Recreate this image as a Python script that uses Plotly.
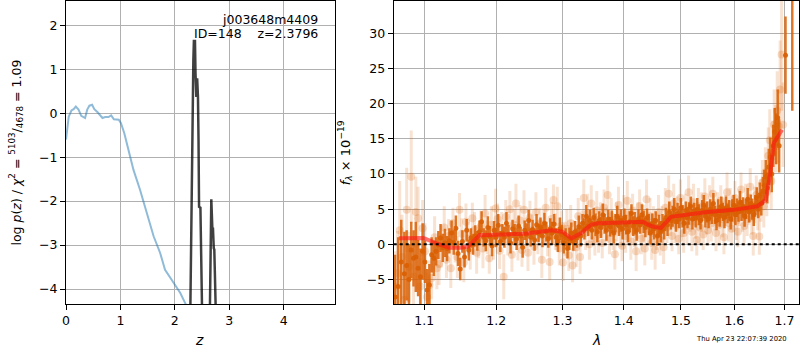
import math
import plotly.graph_objects as go

# ---------------- Left panel: redshift PDF ----------------
z_wide = [0.0, 0.05, 0.10, 0.14, 0.18, 0.23, 0.28, 0.31, 0.35, 0.39, 0.43, 0.48, 0.52, 0.58,
          0.63, 0.67, 0.72, 0.78, 0.83, 0.88, 0.97, 1.01, 1.07, 1.15, 1.24, 1.36, 1.49, 1.61,
          1.73, 1.82, 1.92, 2.01, 2.10, 2.19, 2.25]
logp_wide = [-0.60, -0.08, 0.06, 0.09, 0.15, 0.08, -0.06, -0.08, -0.11, 0.08, 0.17, 0.19, 0.09, 0.02,
             -0.04, -0.11, -0.09, -0.09, -0.05, -0.14, -0.15, -0.23, -0.45, -0.83, -1.29, -1.74, -2.27, -2.80,
             -3.18, -3.56, -3.75, -3.92, -4.09, -4.32, -4.47]

z_fine = [2.27, 2.285, 2.31, 2.34, 2.35, 2.37, 2.38, 2.395, 2.41, 2.425, 2.435, 2.445, 2.47, 2.50, 2.52,
          2.60, 2.63, 2.645, 2.67, 2.68, 2.69, 2.70, 2.715, 2.725, 2.735, 2.76, 2.78, 2.90]
logp_fine = [-6.0, -4.4, -1.0, 1.2, 1.64, 1.64, 0.9, 0.37, 0.79, 0.37, -0.6, -2.13, -2.15, -4.4, -6.0,
             -6.0, -6.0, -4.4, -1.96, -2.3, -2.65, -2.6, -3.07, -3.1, -3.6, -4.4, -6.0, -6.0]

obj_name = "j003648m4409"
obj_id = 148
obj_z = 2.3796
chi2_num, chi2_den, chi2_red = 5103, 4678, 1.09

# ---------------- Right panel: spectrum ----------------
model_lam = [1.067, 1.099, 1.115, 1.134, 1.150, 1.160, 1.176, 1.21, 1.242, 1.283, 1.300, 1.314,
             1.33, 1.346, 1.357, 1.40, 1.432, 1.447, 1.464, 1.482, 1.52, 1.549, 1.599, 1.645,
             1.662, 1.671, 1.678, 1.695]
model_flux = [0.85, 0.9, 0.2, -0.5, -0.5, -0.3, 1.3, 1.4, 1.5, 2.0, 1.8, 0.85,
              1.6, 2.8, 3.0, 3.1, 3.2, 2.6, 2.3, 3.9, 4.3, 4.6, 4.9, 5.4,
              6.3, 10.1, 14.4, 16.3]

light_lam = [1.062, 1.065, 1.068, 1.071, 1.074, 1.077, 1.080, 1.083, 1.086, 1.089, 1.092,
             1.095, 1.098, 1.101, 1.104, 1.107, 1.110, 1.114, 1.117, 1.120, 1.123, 1.127,
             1.130, 1.133, 1.136, 1.139, 1.142, 1.145, 1.148, 1.151, 1.154, 1.157,
             1.160, 1.163, 1.166, 1.169, 1.172, 1.175, 1.178, 1.181, 1.184, 1.187,
             1.190, 1.193, 1.196, 1.199, 1.202, 1.205, 1.208, 1.211, 1.214, 1.217,
             1.220, 1.223, 1.226, 1.229, 1.232, 1.235, 1.238, 1.241, 1.244, 1.247,
             1.250, 1.253, 1.256, 1.259, 1.262, 1.265, 1.268, 1.271, 1.274, 1.277,
             1.280, 1.283, 1.286, 1.289, 1.292, 1.295, 1.298, 1.301, 1.304, 1.307,
             1.310, 1.313, 1.316, 1.319, 1.322, 1.325, 1.328, 1.331, 1.334, 1.337,
             1.340, 1.343, 1.346, 1.349, 1.352, 1.355, 1.358, 1.361, 1.364, 1.367,
             1.370, 1.373, 1.376, 1.379, 1.382, 1.385, 1.388, 1.391, 1.394, 1.397,
             1.400, 1.403, 1.406, 1.409, 1.412, 1.415, 1.418, 1.421, 1.424, 1.427,
             1.430, 1.433, 1.436, 1.439, 1.442, 1.445, 1.448, 1.451, 1.454, 1.457,
             1.460, 1.463, 1.466, 1.469, 1.472, 1.475, 1.478, 1.481, 1.484, 1.487,
             1.490, 1.493, 1.496, 1.499, 1.502, 1.505, 1.508, 1.511, 1.514, 1.517,
             1.520, 1.523, 1.526, 1.529, 1.532, 1.535, 1.538, 1.541, 1.544, 1.547,
             1.550, 1.553, 1.556, 1.559, 1.562, 1.565, 1.568, 1.571, 1.574, 1.577,
             1.580, 1.583, 1.586, 1.589, 1.592, 1.595, 1.598, 1.601, 1.604, 1.607,
             1.610, 1.613, 1.616, 1.619, 1.622, 1.625, 1.628, 1.631, 1.634, 1.637,
             1.640, 1.643, 1.646, 1.649, 1.652, 1.655, 1.658, 1.661, 1.664, 1.667,
             1.670, 1.673, 1.676, 1.679, 1.682, 1.685, 1.688, 1.691, 1.694, 1.697]
light_flux = [-6.0, -4.1, 2.0, -1.8, -7.9, 4.9, -3.2, 9.6, -4.6, 4.6, 3.7,
              -6.0, 2.3, -1.0, -7.5, -5.8, -4.8, 1.0, -3.4, -2.8, -0.3, 2.4,
              -2.2, 1.2, -3.4, 3.0, 0.0, -1.8, 4.9, 1.5, -2.6, 3.2,
              0.8, -0.8, 3.7, 2.0, -1.2, 0.4, 2.6, -0.6, 4.4, 1.0,
              -2.0, 2.8, 0.2, 5.1, 3.6, -0.9, 2.2, -4.6, 3.9, 0.6,
              5.0, -1.5, 2.8, 5.8, 0.3, 3.4, -0.8, 4.9, 1.6, -1.2,
              3.8, 2.0, -0.3, 4.6, 1.0, 3.0, -2.2, 2.4, 5.2, 0.5,
              -2.5, 3.6, 6.3, 1.8, 5.4, -0.6, 2.6, -2.6, 0.8, 2.2,
              -1.6, 3.0, -3.0, 1.2, -0.4, 4.0, -1.8, 2.6, 6.6, 1.6,
              4.4, 0.0, 5.8, 2.4, 0.6, 4.8, 1.4, 3.6, 0.2, 5.2,
              2.8, 7.0, 0.8, 4.0, 1.6, -1.4, 3.2, 5.6, 2.0, -0.2,
              4.4, 1.2, 6.2, 2.6, 0.4, 4.8, 1.8, -1.0, 3.4, 5.4,
              0.8, 3.0, -0.6, 6.4, 2.2, 4.0, 0.2, 3.2, -0.8, 1.8,
              4.6, 0.6, 2.8, -0.4, 5.2, 2.4, 7.2, 3.6, 1.2, 5.8,
              2.8, 4.4, 0.8, 6.6, 3.4, 1.6, 5.0, 2.6, 7.4, 4.0,
              1.8, 6.0, 3.2, 0.6, 5.4, 2.4, 4.6, 1.4, 6.8, 3.8,
              2.0, 5.6, 3.0, 7.2, 4.2, 1.6, 5.0, 2.8, 6.2, 3.6,
              1.0, 4.8, 7.4, 3.0, 5.6, 2.2, 4.4, 6.6, 3.4, 1.8,
              5.2, 7.8, 4.0, 2.6, 6.0, 3.6, 5.0, 8.2, 3.8, 1.2,
              5.6, 7.0, 4.4, 1.1, 6.2, 8.8, 5.4, 10.2, 7.4, 12.6,
              14.8, 9.0, 13.0, 17.0, 15.0, 19.0, 16.8, 22.0, 27.0, 17.0]
light_err = [5.0, 6.0, 7.0, 6.0, 5.0, 6.0, 5.0, 6.6, 5.0, 5.0, 4.5,
             4.0, 4.0, 4.0, 3.5, 3.5, 3.0, 3.0, 3.0, 3.0, 3.0, 3.0,
             2.6, 2.4, 2.8, 2.2, 2.6, 3.0, 2.4, 2.2, 2.8, 2.6,
             2.4, 2.8, 2.2, 2.6, 3.0, 2.4, 2.2, 2.8, 2.6, 2.4,
             2.2, 2.6, 2.4, 2.8, 2.2, 2.6, 2.4, 3.2, 2.4, 2.2,
             2.6, 2.4, 2.2, 2.8, 2.6, 2.2, 2.4, 2.8, 2.2, 2.6,
             2.4, 2.2, 2.6, 2.8, 2.4, 2.2, 2.6, 2.4, 2.8, 2.2,
             2.6, 2.4, 2.2, 2.6, 2.8, 2.4, 2.2, 2.6, 2.4, 2.8,
             2.2, 2.6, 2.4, 2.2, 2.8, 2.6, 2.4, 2.2, 2.6, 2.4,
             2.8, 2.2, 2.6, 2.4, 2.2, 2.8, 2.6, 2.4, 2.2, 2.6,
             2.4, 2.8, 2.2, 2.6, 2.4, 2.2, 2.8, 2.6, 2.4, 2.2,
             2.6, 2.4, 2.8, 2.2, 2.6, 2.4, 2.2, 2.8, 2.6, 2.4,
             2.2, 2.6, 2.4, 2.8, 2.2, 2.6, 2.4, 2.2, 2.8, 2.6,
             2.4, 2.2, 2.6, 2.4, 2.8, 2.2, 2.6, 2.4, 2.2, 2.8,
             2.6, 2.4, 2.2, 2.6, 2.4, 2.8, 2.2, 2.6, 2.4, 2.2,
             2.8, 2.6, 2.4, 2.2, 2.6, 2.4, 2.8, 2.2, 2.6, 2.4,
             2.2, 2.8, 2.6, 2.4, 2.2, 2.6, 2.4, 2.8, 2.2, 2.6,
             2.4, 2.2, 2.8, 2.6, 2.4, 2.2, 2.6, 2.4, 2.8, 2.2,
             2.6, 2.4, 2.2, 2.8, 2.6, 2.4, 2.2, 2.6, 2.4, 2.8,
             2.6, 2.8, 2.4, 2.6, 3.0, 3.2, 3.0, 3.6, 3.4, 4.0,
             4.4, 4.0, 4.6, 5.0, 4.8, 5.6, 5.2, 7.0, 8.0, 6.0]

dark_lam = [1.062, 1.066, 1.070, 1.074, 1.077, 1.080, 1.083, 1.086, 1.089, 1.092, 1.095,
            1.098, 1.101, 1.104, 1.107,
            1.110, 1.113, 1.116, 1.119, 1.122, 1.125, 1.128, 1.131, 1.134, 1.137,
            1.140, 1.143, 1.146, 1.149, 1.152, 1.155, 1.158, 1.161, 1.164, 1.167,
            1.170, 1.173, 1.176, 1.179, 1.182, 1.185, 1.188, 1.191, 1.194, 1.197,
            1.200, 1.203, 1.206, 1.209, 1.212, 1.215, 1.218, 1.221, 1.224, 1.227,
            1.230, 1.233, 1.236, 1.239, 1.242, 1.245, 1.248, 1.251, 1.254, 1.257,
            1.260, 1.263, 1.266, 1.269, 1.272, 1.275, 1.278, 1.281, 1.284, 1.287,
            1.290, 1.293, 1.296, 1.299, 1.302, 1.305, 1.308, 1.311, 1.314, 1.317,
            1.320, 1.323, 1.326, 1.329, 1.332, 1.335, 1.338, 1.341, 1.344, 1.347,
            1.350, 1.353, 1.356, 1.359, 1.362, 1.365, 1.368, 1.371, 1.374, 1.377,
            1.380, 1.383, 1.386, 1.389, 1.392, 1.395, 1.398, 1.401, 1.404, 1.407,
            1.410, 1.413, 1.416, 1.419, 1.422, 1.425, 1.428, 1.431, 1.434, 1.437,
            1.440, 1.443, 1.446, 1.449, 1.452, 1.455, 1.458, 1.461, 1.464, 1.467,
            1.470, 1.473, 1.476, 1.479, 1.482, 1.485, 1.488, 1.491, 1.494, 1.497,
            1.500, 1.503, 1.506, 1.509, 1.512, 1.515, 1.518, 1.521, 1.524, 1.527,
            1.530, 1.533, 1.536, 1.539, 1.542, 1.545, 1.548, 1.551, 1.554, 1.557,
            1.560, 1.563, 1.566, 1.569, 1.572, 1.575, 1.578, 1.581, 1.584, 1.587,
            1.590, 1.593, 1.596, 1.599, 1.602, 1.605, 1.608, 1.611, 1.614, 1.617,
            1.620, 1.623, 1.626, 1.629, 1.632, 1.635, 1.638, 1.641, 1.644, 1.647,
            1.650, 1.653, 1.656, 1.659, 1.662, 1.665, 1.668, 1.671, 1.674, 1.677,
            1.680, 1.683, 1.686, 1.689, 1.702, 1.716]
dark_flux = [-7.5, -6.0, -2.5, -4.2, -3.0, -5.0, -0.8, -2.0, -1.8, -3.4, -4.6,
             -1.0, -2.5, -6.5, -5.8,
             -1.5, -2.0, -1.0, -0.1, 0.9, -0.5, 0.2, -0.6, 0.5, 1.6,
             0.3, 2.3, -1.3, -3.5, 0.4, -1.8, 2.0, -0.8, 0.9, 0.0,
             1.2, 0.5, 1.8, 3.2, 1.0, 0.5, 2.4, 1.2, -0.2, 2.0,
             1.0, 2.7, 0.4, 1.6, 1.0, 3.0, 1.4, 0.2, 2.2, 1.5,
             0.8, 2.6, 1.2, -0.4, 2.0, 1.4, 3.4, 1.0, 2.1, 0.6,
             2.8, 1.6, 2.4, 1.2, 3.0, 1.8, 0.8, 2.2, 1.6, 2.9,
             1.0, 0.4, 2.2, 1.4, 0.2, 1.0, -0.6, 0.8, 1.6, 0.4,
             1.8, 0.9, 2.5, 1.2, 3.0, 2.2, 4.0, 2.6, 3.4, 2.0,
             3.8, 2.8, 1.8, 3.4, 2.4, 4.2, 2.9, 2.0, 3.6, 2.5,
             3.2, 1.6, 3.0, 4.0, 2.6, 3.4, 2.2, 3.8, 2.8, 1.8,
             3.2, 4.4, 2.6, 3.0, 2.0, 3.6, 2.8, 4.2, 3.2, 2.4,
             3.8, 2.8, 1.6, 3.0, 2.2, 3.4, 1.2, 2.6, 1.8, 3.0,
             2.2, 3.8, 2.8, 4.6, 3.4, 4.0, 5.0, 3.2, 4.4, 3.6,
             5.2, 4.0, 3.0, 4.8, 3.8, 4.4, 5.4, 3.6, 4.6, 3.8,
             5.0, 4.2, 3.4, 4.8, 5.6, 4.0, 4.6, 3.6, 5.0, 4.4,
             5.8, 4.2, 3.4, 4.8, 4.0, 5.4, 4.6, 3.8, 5.2, 4.4,
             5.0, 3.6, 4.8, 5.6, 4.2, 5.2, 4.6, 6.0, 4.8, 5.4,
             4.0, 5.0, 6.4, 4.6, 5.8, 5.0, 4.2, 5.6, 6.6, 5.0,
             7.0, 5.8, 7.6, 8.4, 9.6, 8.0, 11.0, 12.4, 10.0, 14.0,
             16.0, 15.0, 18.0, 14.0, 26.9, 40.0]
dark_err = [6.0, 7.0, 6.0, 6.0, 5.0, 5.0, 4.0, 4.0, 5.0, 4.0, 4.0,
            4.0, 3.0, 3.0, 3.0,
            2.5, 2.5, 2.0, 2.0, 2.0, 2.0, 2.0, 1.8, 1.8, 1.8,
            1.8, 1.8, 1.8, 1.6, 1.6, 1.5, 1.6, 1.5, 1.4, 1.5,
            1.5, 1.4, 1.6, 1.5, 1.3, 1.5, 1.6, 1.4, 1.5, 1.3,
            1.4, 1.6, 1.5, 1.3, 1.5, 1.6, 1.4, 1.5, 1.3, 1.4,
            1.6, 1.5, 1.3, 1.5, 1.4, 1.6, 1.5, 1.3, 1.4, 1.5,
            1.5, 1.3, 1.4, 1.6, 1.5, 1.4, 1.3, 1.5, 1.6, 1.4,
            1.3, 1.5, 1.6, 1.4, 1.5, 1.3, 1.4, 1.6, 1.5, 1.3,
            1.5, 1.4, 1.6, 1.5, 1.3, 1.5, 1.6, 1.4, 1.5, 1.3,
            1.4, 1.6, 1.5, 1.3, 1.5, 1.6, 1.4, 1.5, 1.3, 1.4,
            1.6, 1.5, 1.3, 1.5, 1.4, 1.6, 1.5, 1.3, 1.4, 1.5,
            1.5, 1.3, 1.4, 1.6, 1.5, 1.4, 1.3, 1.5, 1.6, 1.4,
            1.3, 1.5, 1.6, 1.4, 1.5, 1.3, 1.4, 1.6, 1.5, 1.3,
            1.5, 1.4, 1.6, 1.5, 1.3, 1.5, 1.6, 1.4, 1.5, 1.3,
            1.4, 1.6, 1.5, 1.3, 1.5, 1.6, 1.4, 1.5, 1.3, 1.4,
            1.6, 1.5, 1.3, 1.5, 1.4, 1.6, 1.5, 1.3, 1.4, 1.5,
            1.5, 1.3, 1.4, 1.6, 1.5, 1.4, 1.3, 1.5, 1.6, 1.4,
            1.3, 1.5, 1.6, 1.4, 1.5, 1.3, 1.4, 1.6, 1.5, 1.3,
            1.5, 1.4, 1.6, 1.5, 1.3, 1.5, 1.6, 1.4, 1.5, 1.3,
            1.8, 1.7, 2.0, 2.2, 2.4, 2.2, 2.6, 2.8, 2.6, 3.0,
            3.4, 3.6, 4.0, 3.8, 5.5, 21.0]

x1_ticks = [0, 1, 2, 3, 4]
y1_ticks = [-4, -3, -2, -1, 0, 1, 2]
x2_ticks = [1.1, 1.2, 1.3, 1.4, 1.5, 1.6, 1.7]
y2_ticks = [-5, 0, 5, 10, 15, 20, 25, 30]
timestamp = "Thu Apr 23 22:07:39 2020"

FONT = "DejaVu Sans"
FS = 12.5
ORANGE = "217,95,2"

fig = go.Figure()

fig.add_trace(go.Scatter(x=z_wide, y=logp_wide, mode="lines",
                         line=dict(color="rgba(31,119,180,0.5)", width=2),
                         xaxis="x", yaxis="y", showlegend=False))
fig.add_trace(go.Scatter(x=z_fine, y=logp_fine, mode="lines",
                         line=dict(color="rgba(0,0,0,0.75)", width=2.5),
                         xaxis="x", yaxis="y", showlegend=False))

fig.add_trace(go.Scatter(x=light_lam, y=light_flux, mode="markers",
                         marker=dict(color=f"rgba({ORANGE},0.22)", size=8, line=dict(width=0)),
                         error_y=dict(type="data", array=light_err, visible=True,
                                      color=f"rgba({ORANGE},0.18)", thickness=3, width=0),
                         xaxis="x2", yaxis="y2", showlegend=False))
fig.add_trace(go.Scatter(x=dark_lam, y=dark_flux, mode="markers",
                         marker=dict(color=f"rgba({ORANGE},0.9)", size=5, line=dict(width=0)),
                         error_y=dict(type="data", array=dark_err, visible=True,
                                      color=f"rgba({ORANGE},0.85)", thickness=2.5, width=0),
                         xaxis="x2", yaxis="y2", showlegend=False))
fig.add_trace(go.Scatter(x=model_lam, y=model_flux, mode="lines",
                         line=dict(color="rgba(255,20,20,0.6)", width=4),
                         xaxis="x2", yaxis="y2", showlegend=False))

fig.add_shape(type="line", xref="x2 domain", yref="y2", x0=0, x1=1, y0=0, y1=0,
              line=dict(color="black", width=2, dash="dot"), layer="above")

axis_common = dict(showgrid=True, gridcolor="#b0b0b0", gridwidth=1, zeroline=False,
                   showline=True, mirror=True, linecolor="black", linewidth=1,
                   ticks="outside", ticklen=5, tickwidth=1, tickcolor="black",
                   tickfont=dict(family=FONT, size=FS, color="black"))

fig.update_layout(
    width=800, height=350,
    margin=dict(l=0, r=0, t=0, b=0),
    paper_bgcolor="white", plot_bgcolor="white",
    font=dict(family=FONT, size=FS, color="black"),
    xaxis=dict(domain=[0.0779, 0.4163], range=[0, 4.95], tickvals=x1_ticks,
               anchor="y", **axis_common),
    yaxis=dict(domain=[0.1314, 0.9971], range=[-4.34, 2.55], tickvals=y1_ticks,
               anchor="x", **axis_common),
    xaxis2=dict(domain=[0.4896, 0.99875], type="log",
                range=[math.log10(1.0603), math.log10(1.730)],
                tickvals=x2_ticks, ticktext=[f"{v:.1f}" for v in x2_ticks],
                anchor="y2", **axis_common),
    yaxis2=dict(domain=[0.1314, 0.9971], range=[-8.49, 34.6], tickvals=y2_ticks,
                anchor="x2", **axis_common),
)

nb = "\u00a0"
annotations = [
    dict(text=obj_name, x=0.3975, y=0.9457, xanchor="right", yanchor="middle"),
    dict(text=f"ID={obj_id}{nb*4}z={obj_z:.4f}", x=0.3975, y=0.9029,
         xanchor="right", yanchor="middle"),
    dict(text="<i>z</i>", x=0.2459, y=0.028, xanchor="center", yanchor="middle",
         font=dict(family=FONT, size=14, color="black")),
    dict(text="<i>λ</i>", x=0.7438, y=0.028, xanchor="center", yanchor="middle",
         font=dict(family=FONT, size=14, color="black")),
    dict(text=f"log <i>p</i>(<i>z</i>) / <i>χ</i><sup>2</sup> = <sup>{chi2_num}</sup>/<sub>{chi2_den}</sub> = {chi2_red:.2f}",
         x=0.015, y=0.564, xanchor="center", yanchor="middle", textangle=-90,
         font=dict(family=FONT, size=12.5, color="black")),
    dict(text="<i>f</i><sub><i>λ</i></sub> × 10<sup>−19</sup>",
         x=0.428, y=0.564, xanchor="center", yanchor="middle", textangle=-90,
         font=dict(family=FONT, size=13, color="black")),
    dict(text=timestamp, x=0.927, y=0.031, xanchor="center", yanchor="middle",
         font=dict(family=FONT, size=6.8, color="black")),
]
for a in annotations:
    a.setdefault("font", dict(family=FONT, size=FS, color="black"))
    fig.add_annotation(xref="paper", yref="paper", showarrow=False, **a)

fig.write_html(
    "out.html",
    config={"displayModeBar": False},
    post_script="document.body.style.margin='0';document.body.style.padding='0';"
                "document.documentElement.style.overflow='hidden';",
)
